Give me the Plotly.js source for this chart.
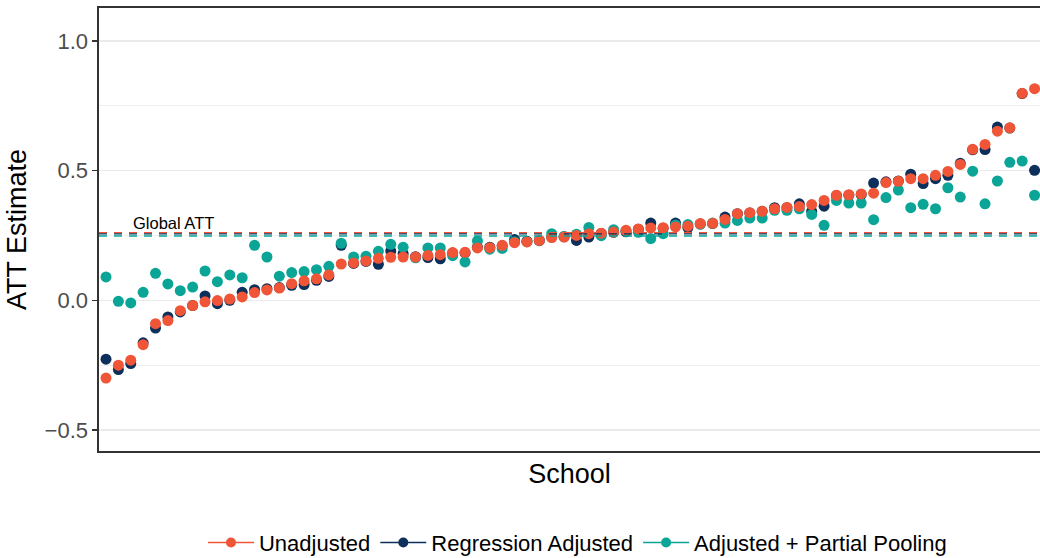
<!DOCTYPE html>
<html>
<head>
<meta charset="utf-8">
<script src="https://cdn.plot.ly/plotly-3.0.1.min.js"></script>
<style>
  html, body { margin: 0; padding: 0; overflow: hidden; background: #fff; }
  #chart { width: 1040px; height: 558px; }
</style>
</head>
<body>
<div id="chart"></div>
<script>
// School index (sorted by unadjusted estimate)
const schools = [1,2,3,4,5,6,7,8,9,10,11,12,13,14,15,16,17,18,19,20,
  21,22,23,24,25,26,27,28,29,30,31,32,33,34,35,36,37,38,39,40,
  41,42,43,44,45,46,47,48,49,50,51,52,53,54,55,56,57,58,59,60,
  61,62,63,64,65,66,67,68,69,70,71,72,73,74,75,76];

const unadjusted = [-0.300,-0.250,-0.231,-0.171,-0.090,-0.078,-0.040,-0.020,-0.006,-0.001,
  0.005,0.013,0.030,0.040,0.047,0.064,0.075,0.083,0.098,0.140,
  0.144,0.152,0.162,0.166,0.167,0.167,0.173,0.176,0.184,0.185,
  0.202,0.203,0.212,0.222,0.225,0.231,0.242,0.244,0.250,0.257,
  0.259,0.263,0.270,0.275,0.279,0.280,0.283,0.286,0.296,0.297,
  0.312,0.334,0.338,0.343,0.353,0.358,0.362,0.369,0.385,0.405,
  0.407,0.410,0.413,0.454,0.459,0.469,0.469,0.482,0.497,0.524,
  0.582,0.601,0.652,0.665,0.798,0.816];

const regressionAdjusted = [-0.227,-0.267,-0.244,-0.164,-0.107,-0.064,-0.045,-0.020,0.017,-0.013,
  0.000,0.031,0.041,0.045,0.049,0.058,0.061,0.077,0.092,0.212,
  0.142,0.150,0.139,0.190,0.180,0.168,0.165,0.160,0.182,0.183,
  0.205,0.205,0.210,0.234,0.228,0.230,0.244,0.245,0.231,0.244,
  0.258,0.262,0.264,0.274,0.298,0.278,0.298,0.280,0.294,0.296,
  0.321,0.334,0.337,0.343,0.357,0.357,0.372,0.343,0.363,0.404,
  0.405,0.408,0.452,0.457,0.460,0.486,0.450,0.469,0.482,0.528,
  0.580,0.581,0.668,0.664,0.797,0.501];

const partialPooling = [0.090,-0.004,-0.010,0.031,0.104,0.063,0.037,0.051,0.113,0.072,
  0.098,0.087,0.212,0.167,0.093,0.107,0.111,0.118,0.131,0.220,
  0.167,0.170,0.189,0.216,0.205,0.164,0.202,0.202,0.172,0.148,
  0.229,0.197,0.200,0.226,0.226,0.232,0.257,0.246,0.255,0.281,
  0.249,0.272,0.268,0.262,0.238,0.257,0.290,0.292,0.294,0.298,
  0.298,0.308,0.317,0.317,0.347,0.347,0.353,0.331,0.289,0.385,
  0.375,0.375,0.311,0.396,0.425,0.357,0.370,0.353,0.434,0.398,
  0.498,0.372,0.460,0.532,0.537,0.405];

const seriesNames = ["Unadjusted", "Regression Adjusted", "Adjusted + Partial Pooling"];
const seriesColors = ["#EF5536", "#0C2F5B", "#0AA596"];
const globalATT = [0.261, 0.256, 0.248];
const yTickVals = [-0.5, 0, 0.5, 1];
const yTickText = ["\u22120.5", "0.0", "0.5", "1.0"];
const yMinorVals = [-0.25, 0.25, 0.75];

const FONT = "Liberation Sans, Arial, Helvetica, sans-serif";
const seriesValues = [unadjusted, regressionAdjusted, partialPooling];

const traces = [];
// draw order: regression (bottom), pooling, unadjusted (top)
[1, 2, 0].forEach(function (k) {
  traces.push({
    type: "scatter", mode: "markers",
    x: schools, y: seriesValues[k],
    name: seriesNames[k],
    marker: { color: seriesColors[k], size: 11 },
    showlegend: false,
    hoverinfo: "x+y+name",
    cliponaxis: true
  });
});
// legend entries (point + line key)
[0, 1, 2].forEach(function (k) {
  traces.push({
    type: "scatter", mode: "lines+markers",
    x: [null], y: [null],
    name: seriesNames[k],
    marker: { color: seriesColors[k], size: 10 },
    line: { color: seriesColors[k], width: 1.5 },
    legendrank: k + 1,
    showlegend: true,
    hoverinfo: "skip"
  });
});

const shapes = globalATT.map(function (v, k) {
  return {
    type: "line", xref: "paper", x0: 0, x1: 1, yref: "y", y0: v, y1: v,
    line: { color: seriesColors[k], width: 1.3, dash: "8px,7px" },
    layer: "above"
  };
});

const layout = {
  width: 1040, height: 558,
  margin: { l: 99, r: 0, t: 8, b: 107, pad: 0, autoexpand: false },
  paper_bgcolor: "#ffffff", plot_bgcolor: "#ffffff",
  font: { family: FONT, color: "#000000" },
  showlegend: true,
  legend: {
    orientation: "h", x: 0.1105, xanchor: "left", y: -0.207, yanchor: "middle",
    font: { family: FONT, size: 22, color: "#000000" },
    bgcolor: "rgba(0,0,0,0)", itemwidth: 46, traceorder: "normal"
  },
  xaxis: {
    range: [0.435, 76.44],
    showgrid: false, zeroline: false,
    showticklabels: false, ticks: "",
    showline: true, mirror: true, linecolor: "#333333", linewidth: 1.6,
    title: { text: "School", font: { family: FONT, size: 27, color: "#000000" }, standoff: 12 },
    fixedrange: true
  },
  yaxis: {
    range: [-0.581, 1.127],
    tickvals: yTickVals, ticktext: yTickText,
    ticks: "outside", ticklen: 5, tickwidth: 1.5, tickcolor: "#333333",
    tickfont: { family: FONT, size: 22, color: "#4D4D4D" },
    showgrid: true, gridcolor: "#EBEBEB", gridwidth: 1.5,
    minor: { tickvals: yMinorVals, showgrid: true, gridcolor: "#EBEBEB", gridwidth: 0.8, ticks: "" },
    zeroline: false,
    showline: true, mirror: false, linecolor: "#333333", linewidth: 1.6,
    title: { text: "ATT Estimate", font: { family: FONT, size: 27, color: "#000000" }, standoff: 10 },
    fixedrange: true
  },
  shapes: shapes,
  annotations: [{
    xref: "x", yref: "y", x: 3, y: 0.30, xanchor: "left", yanchor: "middle",
    text: "Global ATT", showarrow: false,
    font: { family: FONT, size: 16.5, color: "#000000" }
  }]
};

Plotly.newPlot("chart", traces, layout, { displayModeBar: false, staticPlot: true });
</script>
</body>
</html>
